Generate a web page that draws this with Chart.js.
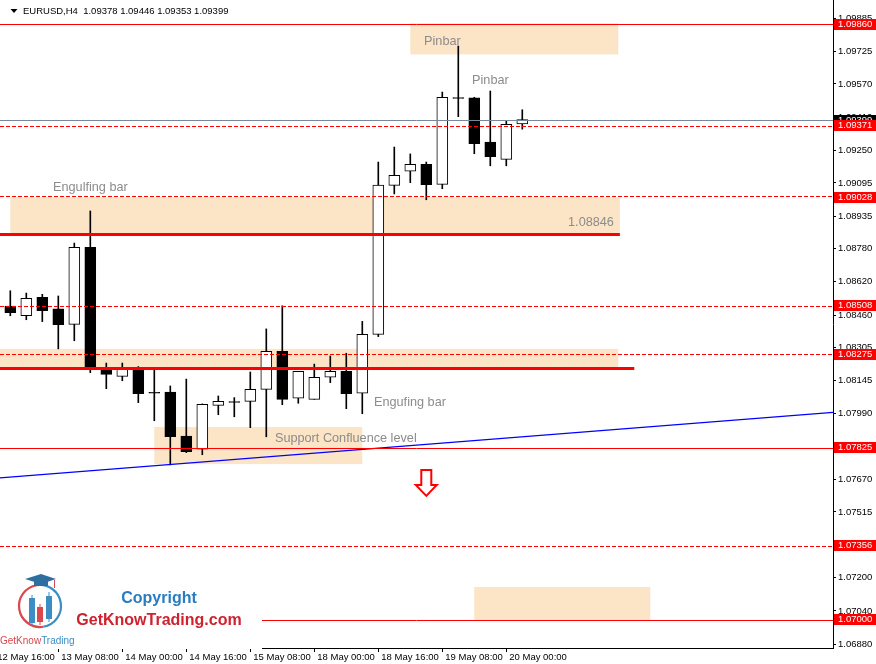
<!DOCTYPE html>
<html>
<head>
<meta charset="utf-8">
<script src="https://cdn.jsdelivr.net/npm/chart.js@4.4.1/dist/chart.umd.min.js"></script>
<style>
  html, body { margin: 0; padding: 0; background: #fff; }
  #wrap { width: 876px; height: 664px; }
</style>
</head>
<body>
<div id="wrap"><canvas id="chart" width="876" height="664"></canvas></div>
<script>
// EURUSD H4 candles (index 0 = 12 May 20:00)
const opens  = [1.08504, 1.08457, 1.08546, 1.08490, 1.08416, 1.08786, 1.08210, 1.08166, 1.08200, 1.08090,
                1.08091, 1.07880, 1.07816, 1.08027, 1.08045, 1.08046, 1.08104, 1.08286, 1.08061, 1.08056,
                1.08162, 1.08190, 1.08085, 1.08368, 1.09083, 1.09151, 1.09184, 1.09088, 1.09504, 1.09503,
                1.09291, 1.09208, 1.09378];
const highs  = [1.08577, 1.08566, 1.08560, 1.08552, 1.08806, 1.08960, 1.08230, 1.08230, 1.08213, 1.08197,
                1.08120, 1.08153, 1.08034, 1.08072, 1.08064, 1.08187, 1.08394, 1.08505, 1.08190, 1.08225,
                1.08264, 1.08277, 1.08430, 1.09195, 1.09267, 1.09234, 1.09195, 1.09531, 1.09752, 1.09506,
                1.09536, 1.09392, 1.09446];
const lows   = [1.08457, 1.08438, 1.08429, 1.08298, 1.08337, 1.08184, 1.08107, 1.08145, 1.08040, 1.07953,
                1.07741, 1.07800, 1.07790, 1.07982, 1.07972, 1.07920, 1.07876, 1.08030, 1.08037, 1.08056,
                1.08136, 1.08011, 1.07987, 1.08357, 1.09042, 1.09096, 1.09014, 1.09067, 1.09413, 1.09235,
                1.09177, 1.09177, 1.09353];
const closes = [1.08472, 1.08541, 1.08481, 1.08414, 1.08786, 1.08208, 1.08176, 1.08210, 1.08083, 1.08086,
                1.07876, 1.07804, 1.08032, 1.08046, 1.08041, 1.08104, 1.08286, 1.08056, 1.08190, 1.08162,
                1.08190, 1.08083, 1.08368, 1.09085, 1.09131, 1.09184, 1.09086, 1.09506, 1.09500, 1.09283,
                1.09221, 1.09376, 1.09399];

// time axis labels and the bar index each one sits on
const timeLabels = ['12 May 16:00', '13 May 08:00', '14 May 00:00', '14 May 16:00', '15 May 08:00',
                    '18 May 00:00', '18 May 16:00', '19 May 08:00', '20 May 00:00'];
const timeIdx    = [-1, 3, 7, 11, 15, 19, 23, 27, 31];

// price axis tick labels
const priceTicks = [1.09885, 1.09725, 1.09570, 1.09410, 1.09250, 1.09095, 1.08935, 1.08780, 1.08620, 1.08460,
                    1.08305, 1.08145, 1.07990, 1.07830, 1.07670, 1.07515, 1.07355, 1.07200, 1.07040, 1.06880];

// horizontal levels
const solidLevels  = [1.09860, 1.07825, 1.07000];
const dashedLevels = [1.09371, 1.09028, 1.08508, 1.08275, 1.07356];
const boxLevels    = [1.09860, 1.09371, 1.09028, 1.08508, 1.08275, 1.07825, 1.07356, 1.07000];
const thickLevels  = [1.08846, 1.08203];
const thickEnds    = [38.1, 39.0];
const bidPrice     = 1.09399;

// trend line anchors (bar index, price)
const trendIdx = [-1, 52];
const trendVal = [1.07677, 1.07997];

// supply / demand zones
const zoneFrom = [25, 0, -0.7, 9, 29];
const zoneTo   = [38, 38.1, 38, 22, 40];
const zoneLow  = [1.09712, 1.08846, 1.08202, 1.07745, 1.06997];
const zoneHigh = [1.09861, 1.09027, 1.08298, 1.07923, 1.07155];

// text notes on the chart
const noteText = ['Pinbar', 'Pinbar', 'Engulfing bar', '1.08846', 'Engufing bar', 'Support Confluence level'];
const noteIdx  = [25.86, 28.86, 2.67, 34.86, 22.73, 16.54];
const notePx   = [1.09758, 1.09569, 1.09058, 1.08890, 1.08022, 1.07852];

const arrowIdx = 26;
const arrowTop = 1.07717;

const X_MIN = -0.644, X_MAX = 51.42;
const Y_MIN = 1.06862, Y_MAX = 1.09973;

Chart.defaults.font.family = "'Liberation Sans', Arial, sans-serif";

const idx = opens.map((_, i) => i);

function drawLogo(ctx) {
    ctx.fillStyle = '#fff';
    ctx.fillRect(0, 566, 262, 83);

    // ring
    ctx.lineWidth = 2.2;
    ctx.strokeStyle = '#d9474f';
    ctx.beginPath();
    ctx.arc(40, 606, 21, Math.PI * 0.45, Math.PI * 1.45);
    ctx.stroke();
    ctx.strokeStyle = '#3c8dc5';
    ctx.beginPath();
    ctx.arc(40, 606, 21, Math.PI * 1.45, Math.PI * 2.45);
    ctx.stroke();

    // cap
    ctx.fillStyle = '#2f6f9f';
    ctx.beginPath();
    ctx.moveTo(25, 579); ctx.lineTo(41, 574); ctx.lineTo(56, 579); ctx.lineTo(41, 584);
    ctx.closePath(); ctx.fill();
    ctx.fillRect(34, 581, 14, 5);
    ctx.strokeStyle = '#d9474f';
    ctx.lineWidth = 1;
    ctx.beginPath(); ctx.moveTo(54.5, 580); ctx.lineTo(54.5, 588); ctx.stroke();

    // little candles
    ctx.strokeStyle = '#3c8dc5';
    ctx.fillStyle = '#3c8dc5';
    ctx.beginPath(); ctx.moveTo(32, 595); ctx.lineTo(32, 626); ctx.stroke();
    ctx.fillRect(29, 598, 6, 25);
    ctx.beginPath(); ctx.moveTo(49, 592); ctx.lineTo(49, 622); ctx.stroke();
    ctx.fillRect(46, 596, 6, 23);
    ctx.strokeStyle = '#d9474f';
    ctx.fillStyle = '#d9474f';
    ctx.beginPath(); ctx.moveTo(40, 604); ctx.lineTo(40, 625); ctx.stroke();
    ctx.fillRect(37, 607, 6, 15);

    ctx.textBaseline = 'alphabetic';
    ctx.textAlign = 'left';
    ctx.font = "10px 'Liberation Sans', Arial, sans-serif";
    ctx.fillStyle = '#d9474f';
    ctx.fillText('GetKnow', 0, 644);
    const w = ctx.measureText('GetKnow').width;
    ctx.fillStyle = '#3c8dc5';
    ctx.fillText('Trading', w, 644);

    ctx.textAlign = 'center';
    ctx.font = "bold 16px 'Liberation Sans', Arial, sans-serif";
    ctx.fillStyle = '#2a7cc0';
    ctx.fillText('Copyright', 159, 603);
    ctx.fillStyle = '#d0212f';
    ctx.fillText('GetKnowTrading.com', 159, 625);
}

const overlay = {
    id: 'overlay',
    beforeDatasetsDraw(chart) {
        const {ctx, chartArea: a, scales: {x, y}} = chart;
        ctx.save();
        ctx.beginPath();
        ctx.rect(a.left, a.top, a.right - a.left, a.bottom - a.top);
        ctx.clip();
        ctx.fillStyle = 'rgb(252,228,198)';
        zoneFrom.forEach((f, i) => {
            const x0 = x.getPixelForValue(f), x1 = x.getPixelForValue(zoneTo[i]);
            const y0 = y.getPixelForValue(zoneHigh[i]), y1 = y.getPixelForValue(zoneLow[i]);
            ctx.fillRect(x0, y0, x1 - x0, y1 - y0);
        });
        ctx.restore();
    },
    afterDatasetsDraw(chart) {
        const {ctx, chartArea: a, scales: {x, y}} = chart;
        ctx.save();
        ctx.beginPath();
        ctx.rect(a.left, a.top, a.right - a.left, a.bottom - a.top);
        ctx.clip();

        // horizontal levels, snapped to a pixel row so the thin red stays red
        const level = (v, x1, color, width, dash) => {
            const p = y.getPixelForValue(v);
            const py = width % 2 ? 2 * Math.round(p / 2) + 0.5 : Math.round(p);
            ctx.strokeStyle = color;
            ctx.lineWidth = width;
            ctx.setLineDash(dash || []);
            ctx.beginPath();
            ctx.moveTo(a.left, py);
            ctx.lineTo(x1, py);
            ctx.stroke();
        };
        level(bidPrice, a.right, '#778899', 1);
        solidLevels.forEach(v => level(v, a.right, '#ff0000', 1));
        dashedLevels.forEach(v => level(v, a.right, '#ff0000', 1, [4, 2]));
        thickLevels.forEach((v, i) => level(v, x.getPixelForValue(thickEnds[i]), '#ff0000', 3));
        ctx.setLineDash([]);

        ctx.font = "12.7px 'Liberation Sans', Arial, sans-serif";
        ctx.fillStyle = '#8c8c8c';
        ctx.textAlign = 'left';
        ctx.textBaseline = 'alphabetic';
        noteText.forEach((t, i) => {
            ctx.fillText(t, x.getPixelForValue(noteIdx[i]), y.getPixelForValue(notePx[i]));
        });

        // hollow down arrow
        const ax = x.getPixelForValue(arrowIdx), ay = y.getPixelForValue(arrowTop);
        ctx.strokeStyle = '#ff0000';
        ctx.lineWidth = 2;
        ctx.lineJoin = 'miter';
        ctx.beginPath();
        ctx.moveTo(ax - 5, ay);
        ctx.lineTo(ax + 5, ay);
        ctx.lineTo(ax + 5, ay + 15);
        ctx.lineTo(ax + 10.5, ay + 15);
        ctx.lineTo(ax, ay + 26);
        ctx.lineTo(ax - 10.5, ay + 15);
        ctx.lineTo(ax - 5, ay + 15);
        ctx.closePath();
        ctx.stroke();
        ctx.restore();
    },
    afterDraw(chart) {
        const {ctx, chartArea: a, scales: {y}} = chart;
        ctx.save();

        // header
        ctx.fillStyle = '#000';
        ctx.beginPath();
        ctx.moveTo(10.5, 9); ctx.lineTo(17.5, 9); ctx.lineTo(14, 13);
        ctx.closePath(); ctx.fill();
        ctx.font = "9.5px 'Liberation Sans', Arial, sans-serif";
        ctx.textBaseline = 'middle';
        ctx.textAlign = 'left';
        ctx.fillText('EURUSD,H4  1.09378 1.09446 1.09353 1.09399', 23, 11);

        // price boxes on the axis
        const bx = a.right + 1;
        const drawBox = (v, bg) => {
            const py = Math.round(y.getPixelForValue(v));
            ctx.fillStyle = bg;
            ctx.fillRect(bx, py - 5, 876 - bx, 11);
            ctx.fillStyle = '#fff';
            ctx.fillText(v.toFixed(5), bx + 4, py + 0.5);
        };
        drawBox(bidPrice, '#000');
        boxLevels.forEach(v => drawBox(v, '#ff0000'));

        drawLogo(ctx);
        ctx.restore();
    }
};

new Chart(document.getElementById('chart'), {
    type: 'bar',
    data: {
        datasets: [
            {
                type: 'line',
                data: trendIdx.map((t, i) => ({x: t, y: trendVal[i]})),
                borderColor: '#0000ff',
                borderWidth: 1.2,
                pointRadius: 0,
                fill: false,
                order: 0
            },
            {
                type: 'bar',
                data: idx.map(i => ({x: i, y: [opens[i], closes[i]]})),
                backgroundColor: idx.map(i => closes[i] > opens[i] ? '#ffffff' : '#000000'),
                borderColor: '#000',
                borderWidth: 1,
                borderSkipped: false,
                barThickness: 11,
                grouped: false,
                order: 1
            },
            {
                type: 'bar',
                data: idx.map(i => ({x: i, y: [lows[i], highs[i]]})),
                backgroundColor: '#000',
                borderWidth: 0,
                barThickness: 1,
                grouped: false,
                order: 2
            }
        ]
    },
    options: {
        responsive: false,
        animation: false,
        layout: { padding: 0 },
        plugins: {
            legend: { display: false },
            tooltip: { enabled: false }
        },
        scales: {
            x: {
                type: 'linear',
                position: 'bottom',
                min: X_MIN,
                max: X_MAX,
                offset: false,
                grid: { offset: false, drawOnChartArea: false, drawTicks: true, tickLength: 4, color: '#000' },
                border: { display: true, color: '#000', width: 1 },
                ticks: {
                    autoSkip: false,
                    maxRotation: 0,
                    align: 'start',
                    labelOffset: 3,
                    padding: 0,
                    color: '#000',
                    font: { size: 9.5 },
                    callback: (v, i) => timeLabels[i]
                },
                afterBuildTicks: s => { s.ticks = timeIdx.map(v => ({value: v})); },
                afterFit: s => { s.height = 16; s.paddingLeft = 0; s.paddingRight = 0; }
            },
            y: {
                type: 'linear',
                position: 'right',
                min: Y_MIN,
                max: Y_MAX,
                beginAtZero: false,
                grid: { drawOnChartArea: false, drawTicks: true, tickLength: 3, color: '#000' },
                border: { display: true, color: '#000', width: 1 },
                ticks: {
                    autoSkip: false,
                    padding: 2,
                    color: '#000',
                    font: { size: 9.5 },
                    callback: v => v.toFixed(5)
                },
                afterBuildTicks: s => { s.ticks = priceTicks.map(v => ({value: v})); },
                afterFit: s => { s.width = 43; s.paddingTop = 0; s.paddingBottom = 0; }
            }
        }
    },
    plugins: [overlay]
});
</script>
</body>
</html>
